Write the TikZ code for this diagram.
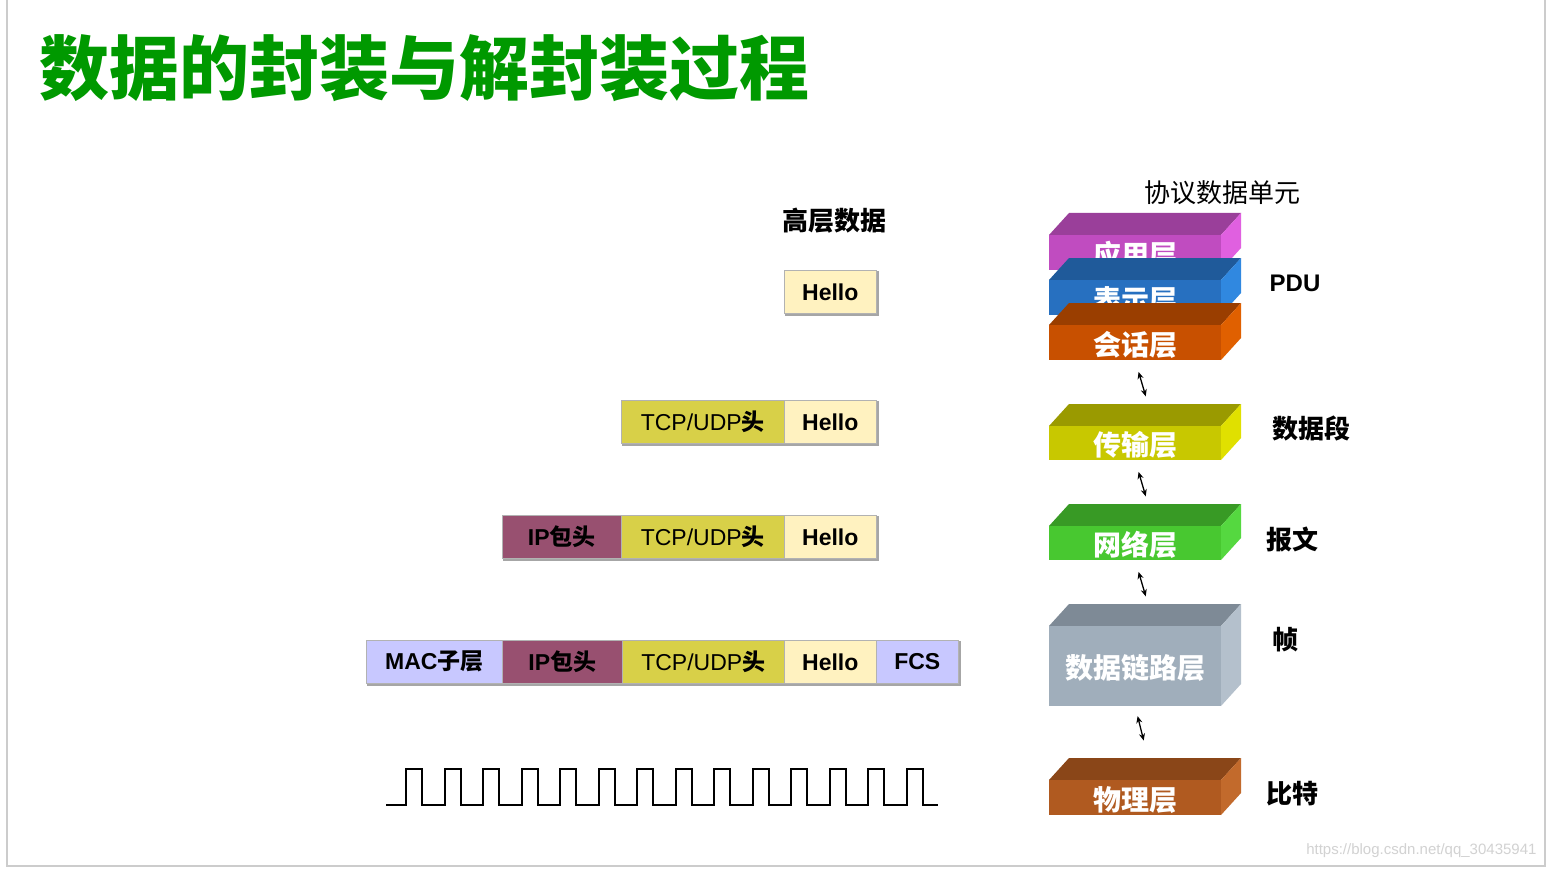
\documentclass[tikz,border=0pt]{standalone}
\usepackage{fontspec}
\setmainfont{Liberation Sans}
\newfontfamily\cjk{Noto Sans CJK SC}
\usetikzlibrary{arrows.meta}
\definecolor{hello}{HTML}{FFF2C0}
\definecolor{tcp}{HTML}{D8D048}
\definecolor{ip}{HTML}{985070}
\definecolor{mac}{HTML}{C8C8FF}
\tikzset{
  pkt/.style={draw=gray!60,line width=0.6pt,minimum height=43pt,anchor=north west,inner sep=0pt,font=\fontsize{23}{23}\selectfont,
    append after command={\pgfextra{\draw[gray!70,line width=2pt] ([xshift=1pt,yshift=-1pt]\tikzlastnode.south west)--([xshift=1pt,yshift=-1pt]\tikzlastnode.south east)--([xshift=1pt,yshift=-1pt]\tikzlastnode.north east);}}},
  lbl/.style={font=\cjk\bfseries\fontsize{26}{26}\selectfont},
  lyr/.style={font=\cjk\bfseries\fontsize{28}{28}\selectfont,text=white,inner sep=0pt},
  dbl/.style={{Stealth[length=7pt,width=6pt]}-{Stealth[length=7pt,width=6pt]},line width=1.3pt}
}
\newcommand{\lay}[7]{% name, ytop, h, front, top, side, text
  \definecolor{#1F}{HTML}{#4}\definecolor{#1T}{HTML}{#5}\definecolor{#1S}{HTML}{#6}%
  \fill[#1T] (1049,-#2) -- (1069,-#2+22) -- (1241,-#2+22) -- (1221,-#2) -- cycle;
  \fill[#1S] (1221,-#2) -- (1241,-#2+22) -- (1241,-#2-#3+22) -- (1221,-#2-#3) -- cycle;
  \node[fill=#1F,minimum width=172pt,minimum height=#3pt,anchor=north west,inner sep=0pt] (#1) at (1049,-#2) {};
  \coordinate (#1t) at (1148,-#2+22);
  \node[lyr] at ([yshift=-2pt]#1.center) {#7};
}
\begin{document}
\begin{tikzpicture}[x=1pt,y=1pt]
\useasboundingbox (0,0) rectangle (1547,-869);
\fill[white] (0,0) rectangle (1547,-869);
\draw[gray!40,line width=2pt] (7,0) -- (7,-866) -- (1545,-866) -- (1545,0);
\node[anchor=west,text=green!60!black,font=\cjk\bfseries\fontsize{70}{70}\selectfont] (title) at (36,-68) {数据的封装与解封装过程};
% packets
\node[lbl] (hl) at (834,-221) {高层数据};
\node[pkt,fill=hello,minimum width=92pt] (h1) at (784,-270) {\textbf{Hello}};
\node[pkt,fill=tcp,minimum width=163pt] (t2) at (621,-400) {TCP/UDP{\cjk\bfseries 头}};
\node[pkt,fill=hello,minimum width=92pt] (h2) at (784,-400) {\textbf{Hello}};
\node[pkt,fill=ip,minimum width=119pt] (i3) at (502,-515) {\textbf{IP}{\cjk\bfseries 包头}};
\node[pkt,fill=tcp,minimum width=163pt] (t3) at (621,-515) {TCP/UDP{\cjk\bfseries 头}};
\node[pkt,fill=hello,minimum width=92pt] (h3) at (784,-515) {\textbf{Hello}};
\node[pkt,fill=mac,minimum width=136pt] (m4) at (366,-640) {\textbf{MAC}{\cjk\bfseries 子层}};
\node[pkt,fill=ip,minimum width=120pt] (i4) at (502,-640) {\textbf{IP}{\cjk\bfseries 包头}};
\node[pkt,fill=tcp,minimum width=162pt] (t4) at (622,-640) {TCP/UDP{\cjk\bfseries 头}};
\node[pkt,fill=hello,minimum width=92pt] (h4) at (784,-640) {\textbf{Hello}};
\node[pkt,fill=mac,minimum width=82pt] (f4) at (876,-640) {\textbf{FCS}};
% square wave
\draw[line width=2pt] (386,-805)
  \foreach \i in {0,...,13} { -- ({406+38.5*\i},-805) -- ({406+38.5*\i},-769) -- ({422+38.5*\i},-769) -- ({422+38.5*\i},-805) } -- (938,-805);
% layers
\lay{app}{235}{35}{C04CC0}{9A3F9A}{E060E0}{应用层}
\lay{pre}{280}{35}{2770C0}{1F5A9A}{3088E0}{表示层}
\lay{ses}{325}{35}{C85000}{9A3E00}{E06000}{会话层}
\lay{tra}{426}{34}{C8C800}{9A9A00}{E0E000}{传输层}
\lay{net}{526}{34}{48C830}{389A25}{55D840}{网络层}
\lay{dl}{626}{80}{A0AEBB}{7E8A96}{B4C0CC}{数据链路层}
\lay{phy}{780}{35}{B05A20}{8A4618}{C26A2C}{物理层}
\draw[dbl,shorten <=12pt,shorten >=8pt] (ses.south) -- (trat);
\draw[dbl,shorten <=12pt,shorten >=8pt] (tra.south) -- (nett);
\draw[dbl,shorten <=12pt,shorten >=8pt] (net.south) -- (dlt);
\draw[dbl,shorten <=10pt,shorten >=18pt] (dl.south) -- (phyt);
% labels
\node[font=\cjk\fontsize{26}{26}\selectfont] (pdu0) at (1222,-193) {协议数据单元};
\node[font=\bfseries\fontsize{24}{24}\selectfont] (pdu) at (1295,-283) {PDU};
\node[lbl] (seg) at (1311,-428) {数据段};
\node[lbl] (pkt) at (1292,-540) {报文};
\node[lbl] (frm) at (1285,-640) {帧};
\node[lbl] (bit) at (1292,-794) {比特};
\node[anchor=east,text=gray!35,font=\fontsize{15}{15}\selectfont] (wm) at (1540,-851) {https://blog.csdn.net/qq\_30435941};
\end{tikzpicture}
\end{document}
